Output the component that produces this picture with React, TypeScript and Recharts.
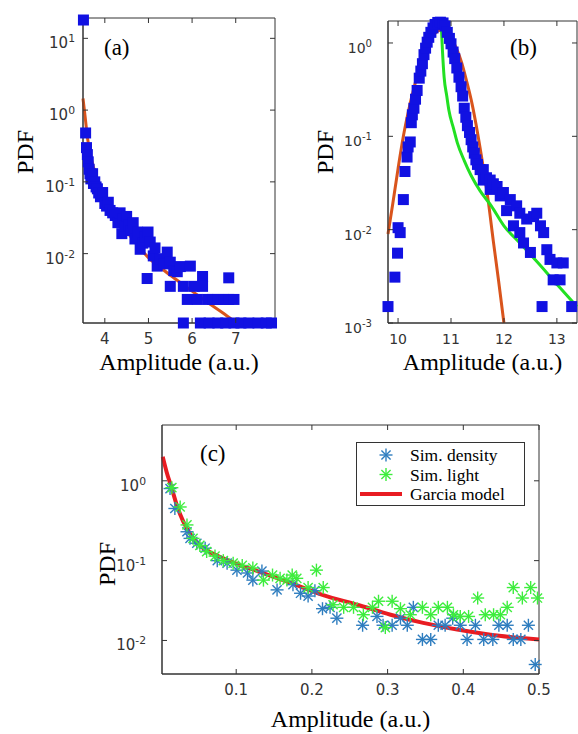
import React from 'react';
import { ComposedChart, Scatter, Line, XAxis, YAxis, Legend, ReferenceArea } from 'recharts';

// ---------- panel (a) ----------
const aXTicks = [4, 5, 6, 7];
const aXLabels = ['4', '5', '6', '7'];
const aYTicks = [0.01, 0.1, 1, 10];
const aYExps = ['-2', '-1', '0', '1'];
const aSquares: [number, number][] = [
  [3.51, 18], [3.56, 0.48], [3.58, 0.3], [3.6, 0.24], [3.62, 0.19], [3.64, 0.15],
  [3.66, 0.13], [3.68, 0.11], [3.7, 0.12], [3.72, 0.13], [3.74, 0.095], [3.77, 0.1],
  [3.8, 0.085], [3.83, 0.08], [3.86, 0.07], [3.9, 0.062], [3.95, 0.071], [4.0, 0.05],
  [4.04, 0.046], [4.08, 0.052], [4.12, 0.04], [4.18, 0.037], [4.24, 0.034], [4.3, 0.027],
  [4.35, 0.037], [4.39, 0.019], [4.42, 0.03], [4.46, 0.024], [4.5, 0.033], [4.55, 0.025],
  [4.6, 0.021], [4.65, 0.027], [4.69, 0.016], [4.75, 0.02], [4.81, 0.0115], [4.87, 0.014],
  [4.93, 0.017], [4.97, 0.0045], [4.99, 0.02], [5.04, 0.0145], [5.11, 0.0093], [5.15, 0.012],
  [5.2, 0.0067], [5.27, 0.0085], [5.35, 0.0072], [5.43, 0.0105], [5.5, 0.0076], [5.5, 0.0035],
  [5.58, 0.0058], [5.66, 0.0056], [5.73, 0.0066], [5.8, 0.0035], [5.89, 0.0023], [5.96, 0.0067],
  [6.05, 0.0035], [6.12, 0.0023], [6.24, 0.0048], [6.24, 0.0035], [6.36, 0.0023], [6.47, 0.0023],
  [6.59, 0.0023], [6.72, 0.0023], [6.84, 0.0046], [6.84, 0.0023], [6.96, 0.0023],
  [5.8, 0.00108], [6.19, 0.00108], [6.39, 0.00108], [6.59, 0.00108], [6.77, 0.00108],
  [6.96, 0.00108], [7.12, 0.00108], [7.3, 0.00108], [7.51, 0.00108], [7.7, 0.00108], [7.82, 0.00108],
];
const aFitX = [3.5, 3.55, 3.6, 3.7, 3.8, 3.9, 4.0, 4.2, 4.4, 4.6, 4.8, 5.0, 5.3, 5.6, 6.0, 6.4, 6.7, 6.96];
const aFitY = [1.45, 0.8, 0.42, 0.2, 0.12, 0.08, 0.058, 0.036, 0.024, 0.017, 0.012, 0.0088, 0.0062, 0.0045, 0.003, 0.002, 0.0015, 0.00115];

// ---------- panel (b) ----------
const bXTicks = [10, 11, 12, 13];
const bXLabels = ['10', '11', '12', '13'];
const bYTicks = [0.001, 0.01, 0.1, 1];
const bYExps = ['-3', '-2', '-1', '0'];
const bSquares: [number, number][] = [
  [9.81, 0.0015], [9.94, 0.0031], [9.99, 0.0056], [10.0, 0.0105], [10.04, 0.0093], [10.1, 0.021],
  [10.13, 0.042], [10.17, 0.06], [10.19, 0.077], [10.23, 0.087], [10.25, 0.14], [10.27, 0.17],
  [10.3, 0.2], [10.33, 0.25], [10.36, 0.31], [10.4, 0.42], [10.43, 0.5], [10.46, 0.6],
  [10.49, 0.75], [10.52, 0.88], [10.55, 1.02], [10.58, 1.15], [10.62, 1.3], [10.66, 1.45],
  [10.7, 1.58], [10.75, 1.66], [10.8, 1.67], [10.85, 1.64], [10.89, 1.52], [10.93, 1.3],
  [10.97, 1.12], [11.0, 0.98], [11.04, 0.8], [11.07, 0.68], [11.11, 0.54], [11.15, 0.43],
  [11.19, 0.34], [11.22, 0.27], [11.25, 0.2], [11.28, 0.16], [11.31, 0.13], [11.35, 0.11],
  [11.38, 0.092], [11.41, 0.077], [11.44, 0.066], [11.47, 0.056], [11.5, 0.05], [11.55, 0.044],
  [11.61, 0.044], [11.61, 0.034], [11.67, 0.036], [11.74, 0.034], [11.74, 0.027], [11.8, 0.031],
  [11.87, 0.029], [11.93, 0.023], [11.99, 0.025], [12.05, 0.016], [12.12, 0.021], [12.18, 0.011],
  [12.24, 0.018], [12.3, 0.015], [12.3, 0.0093], [12.37, 0.0072], [12.43, 0.013], [12.5, 0.0057],
  [12.56, 0.0138], [12.62, 0.015], [12.69, 0.011], [12.72, 0.0015], [12.75, 0.0093], [12.81, 0.0061],
  [12.87, 0.0048], [12.93, 0.0029], [13.0, 0.0044], [13.06, 0.0029], [13.12, 0.0044], [13.28, 0.0015],
];
const bGaussX = [9.81, 9.9, 10.0, 10.1, 10.2, 10.3, 10.4, 10.5, 10.6, 10.7, 10.8, 10.9, 11.0, 11.1, 11.2, 11.3, 11.4, 11.5, 11.6, 11.7, 11.8, 11.9, 12.0];
const bGaussY = [0.009, 0.019, 0.045, 0.1, 0.19, 0.33, 0.52, 0.78, 1.05, 1.27, 1.38, 1.32, 1.14, 0.88, 0.62, 0.38, 0.22, 0.11, 0.05, 0.021, 0.0075, 0.0028, 0.001];
const bTailX = [10.82, 10.84, 10.87, 10.92, 10.96, 11.05, 11.12, 11.25, 11.38, 11.55, 11.76, 12.0, 12.3, 12.63, 13.0, 13.38];
const bTailY = [1.38, 0.8, 0.43, 0.27, 0.19, 0.12, 0.085, 0.055, 0.038, 0.026, 0.018, 0.011, 0.0072, 0.0045, 0.0026, 0.0015];

// ---------- panel (c) ----------
const cXTicks = [0.1, 0.2, 0.3, 0.4, 0.5];
const cXLabels = ['0.1', '0.2', '0.3', '0.4', '0.5'];
const cYTicks = [0.01, 0.1, 1];
const cYExps = ['-2', '-1', '0'];
const cDensity: [number, number][] = [
  [0.0126, 0.8], [0.019, 0.45], [0.035, 0.23], [0.039, 0.19], [0.048, 0.165], [0.059, 0.143],
  [0.075, 0.1], [0.088, 0.093], [0.101, 0.076], [0.115, 0.07], [0.122, 0.057], [0.134, 0.074],
  [0.154, 0.043], [0.175, 0.05], [0.185, 0.039], [0.195, 0.036], [0.204, 0.042], [0.214, 0.025],
  [0.224, 0.026], [0.233, 0.019], [0.267, 0.0155], [0.286, 0.02], [0.294, 0.0155], [0.306, 0.0155],
  [0.317, 0.019], [0.326, 0.0155], [0.334, 0.026], [0.346, 0.0103], [0.357, 0.0103], [0.367, 0.0155],
  [0.376, 0.0155], [0.386, 0.019], [0.396, 0.0155], [0.405, 0.0103], [0.416, 0.0155], [0.427, 0.0103],
  [0.439, 0.0103], [0.447, 0.0155], [0.458, 0.0155], [0.466, 0.0103], [0.476, 0.0103], [0.486, 0.0155],
  [0.495, 0.005],
];
const cLight: [number, number][] = [
  [0.015, 0.82], [0.026, 0.47], [0.035, 0.28], [0.043, 0.19], [0.052, 0.155], [0.061, 0.13],
  [0.072, 0.114], [0.083, 0.1], [0.096, 0.093], [0.108, 0.087], [0.122, 0.081], [0.136, 0.057],
  [0.148, 0.066], [0.158, 0.06], [0.167, 0.057], [0.174, 0.066], [0.18, 0.06], [0.195, 0.046],
  [0.206, 0.076], [0.215, 0.046], [0.228, 0.028], [0.242, 0.026], [0.255, 0.026], [0.268, 0.021],
  [0.28, 0.026], [0.288, 0.031], [0.297, 0.0145], [0.306, 0.031], [0.317, 0.025], [0.33, 0.021],
  [0.346, 0.026], [0.357, 0.021], [0.367, 0.026], [0.379, 0.026], [0.387, 0.021], [0.396, 0.02],
  [0.407, 0.02], [0.419, 0.034], [0.429, 0.021], [0.44, 0.021], [0.449, 0.021], [0.458, 0.026],
  [0.466, 0.046], [0.478, 0.034], [0.489, 0.046], [0.498, 0.034],
];
const cFitX = [0.003, 0.008, 0.015, 0.022, 0.03, 0.04, 0.052, 0.065, 0.083, 0.105, 0.128, 0.171, 0.215, 0.26, 0.304, 0.347, 0.392, 0.436, 0.5];
const cFitY = [2.0, 1.3, 0.8, 0.48, 0.31, 0.21, 0.155, 0.128, 0.107, 0.088, 0.074, 0.053, 0.037, 0.028, 0.021, 0.0166, 0.0137, 0.0118, 0.0103];

const AXIS = '#333333';
const TICK_FONT = '"DejaVu Sans", sans-serif';
const SERIF = '"Liberation Serif", "Times New Roman", serif';
const SQUARE_BLUE = '#1111e2';
const ORANGE = '#d9541c';
const LIME = '#22e022';
const RED = '#e81c22';
const AST_BLUE = '#2e7dbf';
const AST_GREEN = '#3ded3d';

const fromPairs = (arr: [number, number][]) => arr.map(([x, y]) => ({ x, y }));
const fromLists = (xs: number[], ys: number[]) => xs.map((x, i) => ({ x, y: ys[i] }));

const Square = (p: any) => (
  <rect x={p.cx - 5.5} y={p.cy - 5.5} width={11} height={11} fill={SQUARE_BLUE} />
);

const Asterisk = ({ cx, cy, color }: { cx: number; cy: number; color: string }) => {
  const r = 6.5;
  const d = 4.6;
  return (
    <g stroke={color} strokeWidth={1.4}>
      <line x1={cx - r} y1={cy} x2={cx + r} y2={cy} />
      <line x1={cx} y1={cy - r} x2={cx} y2={cy + r} />
      <line x1={cx - d} y1={cy - d} x2={cx + d} y2={cy + d} />
      <line x1={cx - d} y1={cy + d} x2={cx + d} y2={cy - d} />
    </g>
  );
};

// inward MATLAB-style ticks on both sides of the box, labels drawn by hand
const bottomTick = (labels: string[], size: number, plotH: number) => (p: any) => (
  <g>
    <line x1={p.x} y1={p.y} x2={p.x} y2={p.y - 5} stroke={AXIS} />
    <line x1={p.x} y1={p.y - plotH} x2={p.x} y2={p.y - plotH + 5} stroke={AXIS} />
    <text x={p.x} y={p.y + 21} textAnchor="middle" fontFamily={TICK_FONT} fontSize={size} fill="#333">
      {labels[p.index]}
    </text>
  </g>
);
const leftTick = (exps: string[], size: number, gap: number, plotW: number) => (p: any) => (
  <g>
    <line x1={p.x} y1={p.y} x2={p.x + 5} y2={p.y} stroke={AXIS} />
    <line x1={p.x + plotW} y1={p.y} x2={p.x + plotW - 5} y2={p.y} stroke={AXIS} />
    <text x={p.x - gap} y={p.y + 10} textAnchor="end" fontFamily={TICK_FONT} fontSize={size} fill="#333">
      10
      <tspan dy={-6} fontSize={size * 0.72}>
        {exps[p.index]}
      </tspan>
    </text>
  </g>
);

interface PanelProps {
  left: number;
  top: number;
  width: number;
  height: number;
  plotTop: number;
  plotRight: number;
  yAxisWidth: number;
  xAxisHeight: number;
  xDomain: [number, number];
  yDomain: [number, number];
  xTicks: number[];
  xLabels: string[];
  yTicks: number[];
  yExps: string[];
  fontSize: number;
  yGap: number;
  xTitleDy: number;
  yTitleX: number;
  yTitleY: number;
  children: React.ReactNode;
}

function Panel(props: PanelProps) {
  const { left, top, width, height, plotTop, plotRight, yAxisWidth, xAxisHeight } = props;
  const plotW = width - yAxisWidth - plotRight;
  const plotBottom = height - xAxisHeight;
  const plotH = plotBottom - plotTop;
  return (
    <div style={{ position: 'absolute', left, top, width, height }}>
      <ComposedChart
        width={width}
        height={height}
        margin={{ top: plotTop, right: plotRight, bottom: 0, left: 0 }}
        style={{ overflow: 'visible' }}
      >
        <XAxis
          dataKey="x"
          type="number"
          domain={props.xDomain}
          ticks={props.xTicks}
          interval={0}
          height={xAxisHeight}
          tickSize={0}
          tickMargin={0}
          tickLine={false}
          axisLine={{ stroke: AXIS }}
          tick={bottomTick(props.xLabels, props.fontSize, plotH)}
          label={() => (
            <text
              x={yAxisWidth + plotW / 2}
              y={plotBottom + props.xTitleDy}
              textAnchor="middle"
              fontFamily={SERIF}
              fontSize={24}
              fill="#000"
            >
              Amplitude (a.u.)
            </text>
          )}
        />
        <YAxis
          dataKey="y"
          type="number"
          scale="log"
          domain={props.yDomain}
          ticks={props.yTicks}
          interval={0}
          width={yAxisWidth}
          tickSize={0}
          tickMargin={0}
          tickLine={false}
          axisLine={{ stroke: AXIS }}
          tick={leftTick(props.yExps, props.fontSize, props.yGap, plotW)}
          label={() => (
            <text
              x={props.yTitleX}
              y={props.yTitleY}
              transform={`rotate(-90 ${props.yTitleX} ${props.yTitleY})`}
              textAnchor="middle"
              fontFamily={SERIF}
              fontSize={24}
              fill="#000"
            >
              PDF
            </text>
          )}
        />
        <ReferenceArea
          x1={props.xDomain[0]}
          x2={props.xDomain[1]}
          y1={props.yDomain[0]}
          y2={props.yDomain[1]}
          fill="none"
          fillOpacity={0}
          stroke={AXIS}
          strokeWidth={1}
        />
        {props.children}
      </ComposedChart>
    </div>
  );
}

const legendRows = [
  { name: 'Sim. density', color: AST_BLUE, kind: 'star' },
  { name: 'Sim. light', color: AST_GREEN, kind: 'star' },
  { name: 'Garcia model', color: RED, kind: 'line' },
];

const renderLegend = () => (
  <svg width={170} height={65} style={{ display: 'block' }}>
    <rect x={0.5} y={0.5} width={168} height={63} fill="#fff" stroke={AXIS} />
    {legendRows.map((r, i) => {
      const cy = 13 + i * 19.5;
      return (
        <g key={r.name}>
          {r.kind === 'star' ? (
            <Asterisk cx={30} cy={cy} color={r.color} />
          ) : (
            <line x1={4} y1={cy} x2={46} y2={cy} stroke={r.color} strokeWidth={4} />
          )}
          <text x={54} y={cy + 6} fontFamily={SERIF} fontSize={17.5} fill="#000">
            {r.name}
          </text>
        </g>
      );
    })}
  </svg>
);

const letterStyle = (left: number, top: number): React.CSSProperties => ({
  position: 'absolute',
  left,
  top,
  fontFamily: SERIF,
  fontSize: 23,
  lineHeight: '23px',
  color: '#000',
});

export default function App() {
  return (
    <div style={{ position: 'absolute', left: 0, top: 0, width: 578, height: 734, background: '#fff', overflow: 'hidden' }}>
      <Panel
        left={0}
        top={0}
        width={290}
        height={380}
        plotTop={18}
        plotRight={15}
        yAxisWidth={83}
        xAxisHeight={57}
        xDomain={[3.5, 7.9]}
        yDomain={[0.00108, 19.2]}
        xTicks={aXTicks}
        xLabels={aXLabels}
        yTicks={aYTicks}
        yExps={aYExps}
        fontSize={15}
        yGap={8}
        xTitleDy={47}
        yTitleX={33}
        yTitleY={152}
      >
        <Scatter data={fromPairs(aSquares)} dataKey="y" shape={Square} isAnimationActive={false} />
        <Line data={fromLists(aFitX, aFitY)} dataKey="y" type="monotone" stroke={ORANGE} strokeWidth={3} dot={false} isAnimationActive={false} />
      </Panel>

      <Panel
        left={290}
        top={0}
        width={288}
        height={380}
        plotTop={21}
        plotRight={1}
        yAxisWidth={98}
        xAxisHeight={57}
        xDomain={[9.81, 13.38]}
        yDomain={[0.001, 1.72]}
        xTicks={bXTicks}
        xLabels={bXLabels}
        yTicks={bYTicks}
        yExps={bYExps}
        fontSize={14}
        yGap={16}
        xTitleDy={47}
        yTitleX={43}
        yTitleY={152}
      >
        <Scatter data={fromPairs(bSquares)} dataKey="y" shape={Square} isAnimationActive={false} />
        <Line data={fromLists(bGaussX, bGaussY)} dataKey="y" type="monotone" stroke={ORANGE} strokeWidth={3} dot={false} isAnimationActive={false} />
        <Line data={fromLists(bTailX, bTailY)} dataKey="y" type="monotone" stroke={LIME} strokeWidth={3} dot={false} isAnimationActive={false} />
      </Panel>

      <Panel
        left={0}
        top={380}
        width={578}
        height={354}
        plotTop={45}
        plotRight={39}
        yAxisWidth={162}
        xAxisHeight={60}
        xDomain={[0.002, 0.5]}
        yDomain={[0.0038, 5.0]}
        xTicks={cXTicks}
        xLabels={cXLabels}
        yTicks={cYTicks}
        yExps={cYExps}
        fontSize={15}
        yGap={16}
        xTitleDy={53}
        yTitleX={115}
        yTitleY={184}
      >
        <Scatter
          name="Sim. density"
          data={fromPairs(cDensity)}
          dataKey="y"
          fill={AST_BLUE}
          shape={(p: any) => <Asterisk cx={p.cx} cy={p.cy} color={AST_BLUE} />}
          isAnimationActive={false}
        />
        <Scatter
          name="Sim. light"
          data={fromPairs(cLight)}
          dataKey="y"
          fill={AST_GREEN}
          shape={(p: any) => <Asterisk cx={p.cx} cy={p.cy} color={AST_GREEN} />}
          isAnimationActive={false}
        />
        <Line
          name="Garcia model"
          data={fromLists(cFitX, cFitY)}
          dataKey="y"
          type="monotone"
          stroke={RED}
          strokeWidth={4}
          dot={false}
          isAnimationActive={false}
        />
        <Legend
          layout="vertical"
          align="center"
          verticalAlign="middle"
          content={renderLegend}
          wrapperStyle={{ position: 'absolute', left: 356, top: 62, width: 170, height: 65 }}
        />
      </Panel>

      <div style={letterStyle(104, 36)}>(a)</div>
      <div style={letterStyle(510, 36)}>(b)</div>
      <div style={letterStyle(200, 442)}>(c)</div>
    </div>
  );
}
